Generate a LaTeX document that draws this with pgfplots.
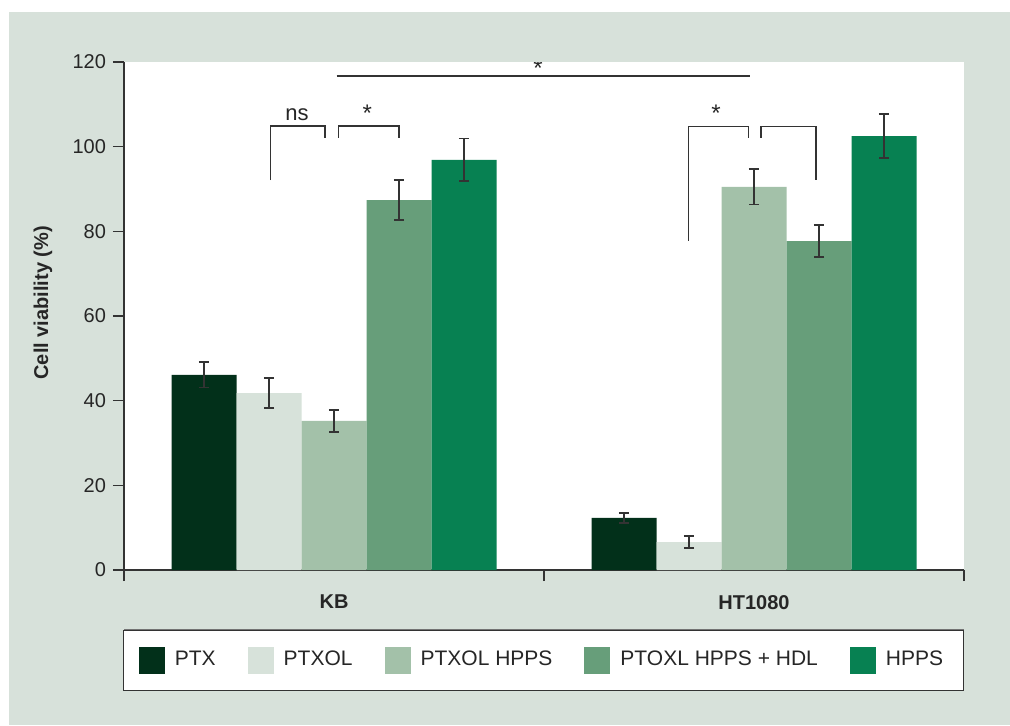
\documentclass[border=0pt]{standalone}
\usepackage{fontspec}
\setmainfont{Liberation Sans}
\usepackage{pgfplots}
\pgfplotsset{compat=1.18}
\definecolor{bg}{HTML}{D7E1DA}
\definecolor{cA}{HTML}{02301A}
\definecolor{cB}{HTML}{D7E2DA}
\definecolor{cC}{HTML}{A3C1A9}
\definecolor{cD}{HTML}{679E7A}
\definecolor{cE}{HTML}{078152}
\definecolor{ink}{HTML}{333333}
\pgfplotsset{eb/.style={error bars/.cd, y dir=both, y explicit,
  error bar style={ink, line width=0.75pt},
  error mark options={rotate=90, mark size=2.6pt, line width=0.75pt, ink}}}
\begin{document}
\begin{tikzpicture}
\useasboundingbox (-62pt,-77.5pt) rectangle (443pt,285pt);
\fill[white] (-62pt,-77.5pt) rectangle (443pt,285pt);
\fill[bg] (-57.5pt,-77.5pt) rectangle (443pt,279pt);
\fill[black!55] (0.2pt,-60.7pt) rectangle (420.2pt,-29.3pt);
\filldraw[fill=white, draw=ink, line width=0.5pt] (-0.5pt,-60pt) rectangle (419.5pt,-30pt);
\begin{axis}[
  at={(0,0)}, anchor=south west,
  scale only axis, width=420pt, height=254pt,
  xmin=-0.5, xmax=1.5, ymin=0, ymax=120,
  axis background/.style={fill=white},
  axis lines*=left,
  axis line style={ink, line width=0.6pt},
  ytick={0,20,...,120},
  tick align=outside,
  major tick length=5.5pt,
  tick style={ink, line width=0.6pt},
  xtick={-0.5,0.5,1.5},
  xticklabels={},
  extra x ticks={0,1},
  extra x tick labels={\textbf{KB},\textbf{HT1080}},
  extra x tick style={major tick length=0pt, tick label style={yshift=-9pt}},
  /pgf/number format/assume math mode=true,
  tick label style={font=\fontsize{10}{12}\selectfont, text=black!85},
  ylabel={\textbf{Cell viability (\%)}},
  ylabel style={at={(axis description cs:-0.0964,0.526)}, anchor=center, font=\fontsize{10}{12}\selectfont, text=black!85},
  ybar=0pt, bar width=32.5pt,
  legend columns=5,
  legend style={draw=none, fill=none, at={(0.4988,-0.1772)}, anchor=center,
    font=\fontsize{10.5}{12}\selectfont, text=black!85,
    /tikz/every odd column/.append style={column sep=3pt},
    /tikz/every even column/.append style={column sep=14pt}},
  legend image code/.code={\path[#1, draw=none] (0pt,-6.75pt) rectangle (13pt,6.75pt);},
]
\addplot[fill=cA, draw=none, eb] coordinates {(0,46.1) +- (0,3.0) (1,12.3) +- (0,1.2)};
\addplot[fill=cB, draw=none, eb] coordinates {(0,41.8) +- (0,3.5) (1,6.6) +- (0,1.4)};
\addplot[fill=cC, draw=none, eb] coordinates {(0,35.2) +- (0,2.6) (1,90.5) +- (0,4.2)};
\addplot[fill=cD, draw=none, eb] coordinates {(0,87.4) +- (0,4.7) (1,77.7) +- (0,3.8)};
\addplot[fill=cE, draw=none, eb] coordinates {(0,96.9) +- (0,5.0) (1,102.5) +- (0,5.2)};
\legend{PTX, PTXOL, PTXOL HPPS, PTOXL HPPS + HDL, HPPS}
\draw[ink, line width=0.6pt] (axis cs:0.0064,116.7) -- (axis cs:0.990,116.7);
\node[anchor=base, inner sep=0pt, text=black!85, font=\fontsize{12}{12}\selectfont] at (axis cs:0.4857,116.6) {*};
\draw[ink, line width=0.6pt] (axis cs:-0.1507,92.1) |- (axis cs:-0.0214,104.9) -- (axis cs:-0.0214,102.05);
\node[anchor=base, inner sep=0pt, text=black!85, font=\fontsize{11}{12}\selectfont] at (axis cs:-0.088,106.3) {ns};
\draw[ink, line width=0.6pt] (axis cs:0.0102,102.05) |- (axis cs:0.1548,104.9) -- (axis cs:0.1548,102.05);
\node[anchor=base, inner sep=0pt, text=black!85, font=\fontsize{12}{12}\selectfont] at (axis cs:0.0793,106.0) {*};
\draw[ink, line width=0.6pt] (axis cs:0.8445,77.8) |- (axis cs:0.9874,104.8) -- (axis cs:0.9874,102.1);
\node[anchor=base, inner sep=0pt, text=black!85, font=\fontsize{12}{12}\selectfont] at (axis cs:0.9095,106.0) {*};
\draw[ink, line width=0.6pt] (axis cs:1.0167,102.05) |- (axis cs:1.1476,104.8) -- (axis cs:1.1476,92.1);
\end{axis}
\end{tikzpicture}
\end{document}
